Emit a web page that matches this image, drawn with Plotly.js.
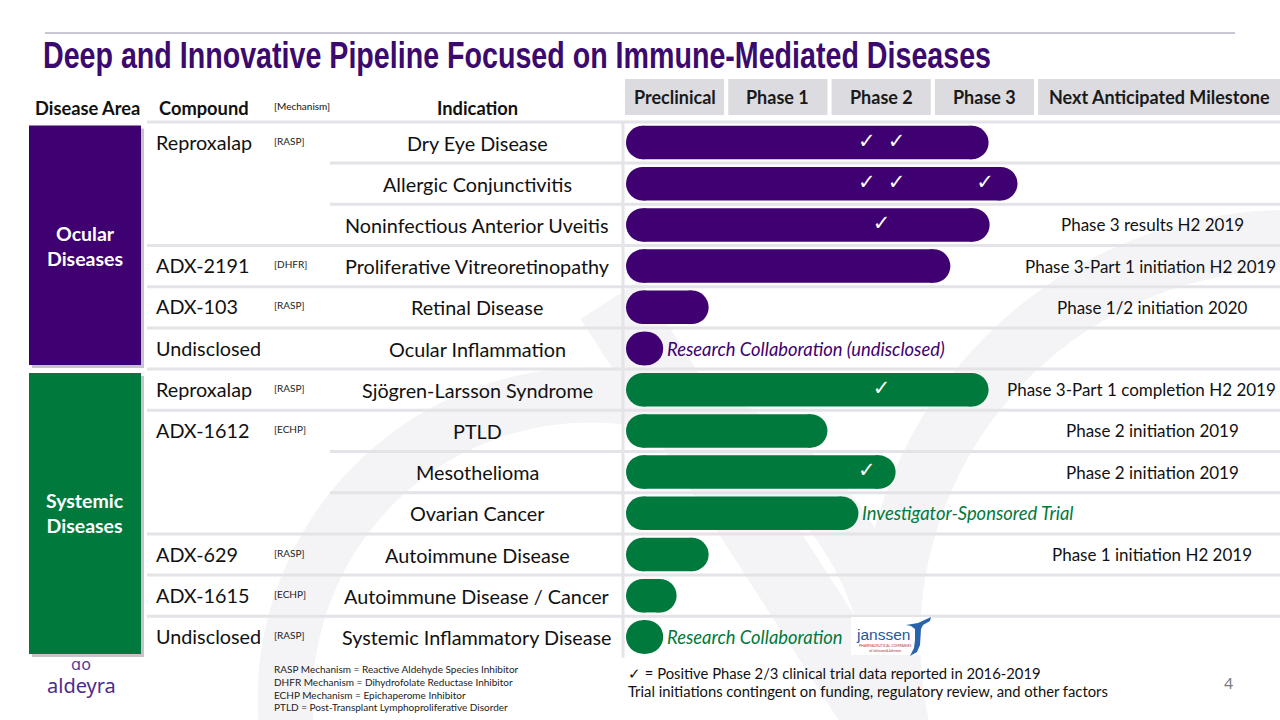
<!DOCTYPE html>
<html><head><meta charset="utf-8">
<script src="https://cdn.plot.ly/plotly-3.0.1.min.js"></script>
<style>html,body{margin:0;padding:0;background:#fff;}#chart{width:1280px;height:720px;}</style>
</head><body><div id="chart"></div>
<script>
// ---------------- data ----------------
const title = 'Deep and Innovative Pipeline Focused on Immune-Mediated Diseases';
const diseaseAreas = ['Ocular<br>Diseases', 'Systemic<br>Diseases'];
const compounds = ['Reproxalap','','','ADX-2191','ADX-103','Undisclosed','Reproxalap','ADX-1612','','','ADX-629','ADX-1615','Undisclosed'];
const mechanisms = ['[RASP]','','','[DHFR]','[RASP]','','[RASP]','[ECHP]','','','[RASP]','[ECHP]','[RASP]'];
const indications = ['Dry Eye Disease','Allergic Conjunctivitis','Noninfectious Anterior Uveitis','Proliferative Vitreoretinopathy','Retinal Disease','Ocular Inflammation','Sjögren-Larsson Syndrome','PTLD','Mesothelioma','Ovarian Cancer','Autoimmune Disease','Autoimmune Disease / Cancer','Systemic Inflammatory Disease'];
const areaIndex = [0,0,0,0,0,0,1,1,1,1,1,1,1];
// progress measured in phase columns: 0 = start of Preclinical, 1 = Phase 1, 2 = Phase 2, 3 = Phase 3
const progress = [3.51,3.79,3.52,3.14,0.80,0.36,3.51,1.95,2.61,2.25,0.80,0.49,0.36];
const milestones = ['','','Phase 3 results H2 2019','Phase 3-Part 1 initiation H2 2019','Phase 1/2 initiation 2020','','Phase 3-Part 1 completion H2 2019','Phase 2 initiation 2019','Phase 2 initiation 2019','','Phase 1 initiation H2 2019','',''];
const barNotes = ['','','','','','Research Collaboration (undisclosed)','','','','Investigator-Sponsored Trial','','','Research Collaboration'];
const checkRow = [0,0,1,1,1,2,6,8];
const checkPos = [2.33,2.62,2.33,2.62,3.475,2.475,2.475,2.33];
const phases = ['Preclinical','Phase 1','Phase 2','Phase 3'];
const milestoneHeader = 'Next Anticipated Milestone';
const leftHeaders = ['Disease Area','Compound','[Mechanism]','Indication'];
const footLeft = ['RASP Mechanism = Reactive Aldehyde Species Inhibitor','DHFR Mechanism = Dihydrofolate Reductase Inhibitor','ECHP Mechanism = Epichaperome Inhibitor','PTLD = Post-Transplant Lymphoproliferative Disorder'];
const footRight = ['✓ = Positive Phase 2/3 clinical trial data reported in 2016-2019','Trial initiations contingent on funding, regulatory review, and other factors'];
const pageNo = '4';

// ---------------- styling / layout helpers ----------------
const W = 1280, H = 720;
const X0 = 626, UNIT = 103.3;      // pixel of progress 0 and pixels per phase
const ROW0 = 142.5, PITCH = 41.2;  // first row centre, row pitch (px)
const BAR = 33.5;                  // bar thickness (px)
const r = (BAR / 2) / UNIT;        // cap radius in progress units
const colors = ['#3f0071', '#007a3c'];
const FONT = 'Lato, "Open Sans", sans-serif';
const TITLE_W = 952;
const px = p => p / W;
const py = p => 1 - p / H;
const rows = indications.map((_, i) => i);
const ux = p => (p - X0) / UNIT;   // px -> progress units
const barColors = areaIndex.map(a => colors[a]);

const traces = [
  { // bar body between the two round caps
    type: 'bar', orientation: 'h', y: rows,
    x: progress.map(v => Math.max(v - 2 * r, 0)), base: rows.map(() => r),
    width: BAR / PITCH,
    marker: { color: barColors, line: { width: 0 } },
    hoverinfo: 'skip'
  },
  { // left caps
    type: 'scatter', mode: 'markers', y: rows, x: rows.map(() => r),
    marker: { size: BAR, color: barColors, line: { width: 0 } },
    hoverinfo: 'skip'
  },
  { // right caps
    type: 'scatter', mode: 'markers', y: rows, x: progress.map(v => Math.max(v - r, r)),
    marker: { size: BAR, color: barColors, line: { width: 0 } },
    hoverinfo: 'skip'
  },
  {
    type: 'scatter', mode: 'text', x: checkPos, y: checkRow,
    text: checkRow.map(() => '✓'),
    textfont: { color: '#ffffff', size: 21, family: 'DejaVu Sans' },
    hoverinfo: 'skip'
  }
];

const shapes = [];
const annotations = [];
const grey = '#e3e3e8';
function note(o) {
  annotations.push(Object.assign({ showarrow: false, xanchor: 'center', yanchor: 'middle' }, o));
}

// watermark (faint logo shapes)
shapes.push({ type: 'circle', xref: 'paper', yref: 'paper', layer: 'below',
  x0: px(285), x1: px(895), y0: py(395), y1: py(1005), line: { color: '#f4f4f7', width: 55 } });
shapes.push({ type: 'line', xref: 'paper', yref: 'paper', layer: 'below',
  x0: px(610), y0: py(300), x1: px(880), y1: py(720), line: { color: '#f4f4f7', width: 70 } });
shapes.push({ type: 'circle', xref: 'paper', yref: 'paper', layer: 'below',
  x0: px(890), x1: px(1690), y0: py(240), y1: py(1040), line: { color: '#f4f4f7', width: 60 } });

// top rule
shapes.push({ type: 'line', xref: 'paper', yref: 'paper', x0: px(45), x1: px(1235), y0: py(33), y1: py(33),
  line: { color: '#c9c6d6', width: 2 } });

// title (box width fixed to the slide headline width; glyphs condensed after drawing)
note({ xref: 'paper', yref: 'paper', x: px(39), y: py(56), xanchor: 'left', width: TITLE_W, text: title,
  font: { family: '"Liberation Sans", Arial, sans-serif', size: 36.5, weight: 'bold', color: '#3b0a6e' } });

// phase header cells
phases.forEach((p, k) => {
  shapes.push({ type: 'rect', xref: 'x', yref: 'paper', x0: k - 0.01, x1: k + 0.95, y0: py(115), y1: py(79),
    fillcolor: '#dcdce0', line: { width: 0 }, layer: 'below' });
  note({ xref: 'x', yref: 'paper', x: k + 0.47, y: py(97), text: p,
    font: { family: FONT, size: 18, weight: 'bold', color: '#1a1a1a' } });
});
shapes.push({ type: 'rect', xref: 'x', yref: 'paper', x0: 3.99, x1: ux(1280), y0: py(115), y1: py(79),
  fillcolor: '#dcdce0', line: { width: 0 }, layer: 'below' });
note({ xref: 'paper', yref: 'paper', x: px(1159), y: py(97), text: milestoneHeader,
  font: { family: FONT, size: 18, weight: 'bold', color: '#1a1a1a' } });

// left headers
const lhX = [33, 157, 272, 477];
const lhAnchor = ['left', 'left', 'left', 'center'];
leftHeaders.forEach((t, k) => {
  const small = k === 2;
  note({ xref: 'paper', yref: 'paper', x: px(lhX[k]), y: py(small ? 106 : 108), xanchor: lhAnchor[k], text: t,
    font: { family: FONT, size: small ? 10 : 18.3, weight: small ? 'normal' : 'bold', color: '#111' } });
});

// disease area boxes
const areaSpans = [[0, 5], [6, 12]];
const areaPx = [[125.5, 365], [373, 654]];
areaPx.forEach((s, k) => {
  shapes.push({ type: 'rect', xref: 'paper', yref: 'paper', x0: px(32), x1: px(144), y0: py(s[1] + 3), y1: py(s[0] + 3),
    fillcolor: '#c4c4ca', line: { width: 0 } });
  shapes.push({ type: 'rect', xref: 'paper', yref: 'paper', x0: px(29), x1: px(141), y0: py(s[1]), y1: py(s[0]),
    fillcolor: colors[k], line: { width: 0 } });
  const mid = (areaSpans[k][0] + areaSpans[k][1]) / 2;
  note({ xref: 'paper', yref: 'y', x: px(85), y: mid, text: diseaseAreas[k],
    font: { family: FONT, size: 19.5, weight: 'bold', color: '#ffffff' } });
});

// row separators
shapes.push({ type: 'line', xref: 'paper', yref: 'y', x0: px(147), x1: 1, y0: -0.5, y1: -0.5, line: { color: grey, width: 3 } });
for (let i = 0; i < rows.length - 1; i++) {
  const partial = compounds[i + 1] === '';
  shapes.push({ type: 'line', xref: 'paper', yref: 'y', x0: px(partial ? 330 : 147), x1: 1, y0: i + 0.5, y1: i + 0.5,
    line: { color: grey, width: 3 }, layer: 'below' });
}
shapes.push({ type: 'line', xref: 'paper', yref: 'y', x0: px(623), x1: px(623), y0: -0.5, y1: rows.length - 0.5,
  line: { color: grey, width: 3 }, layer: 'below' });

// row texts
rows.forEach(i => {
  if (compounds[i]) note({ xref: 'paper', yref: 'y', x: px(154), y: i, xanchor: 'left', yshift: 1,
    text: compounds[i], font: { family: FONT, size: 19.8, color: '#111' } });
  if (mechanisms[i]) note({ xref: 'paper', yref: 'y', x: px(272), y: i, xanchor: 'left', yshift: 2,
    text: mechanisms[i], font: { family: FONT, size: 10, color: '#222' } });
  note({ xref: 'paper', yref: 'y', x: px(477), y: i,
    text: indications[i], font: { family: FONT, size: 19.8, color: '#111' } });
  if (milestones[i]) {
    const long = milestones[i].length >= 33;
    note({ xref: 'paper', yref: 'y', x: px(long ? 1278 : 1152), y: i, xanchor: long ? 'right' : 'center',
      text: milestones[i], font: { family: FONT, size: 17, color: '#111' } });
  }
  if (barNotes[i]) note({ xref: 'x', yref: 'y', x: progress[i] + 0.02, y: i, xanchor: 'left',
    text: barNotes[i], font: { family: FONT, size: 18.4, style: 'italic', color: colors[areaIndex[i]] } });
});

// janssen logo (drawn)
shapes.push({ type: 'rect', xref: 'paper', yref: 'paper', x0: px(851), x1: px(932), y0: py(655), y1: py(617),
  fillcolor: '#ffffff', line: { width: 0 } });
note({ xref: 'paper', yref: 'paper', x: px(854), y: py(634), xanchor: 'left', text: 'janssen',
  font: { family: '"Liberation Sans", sans-serif', size: 15.5, color: '#24589c' } });
note({ xref: 'paper', yref: 'paper', x: px(857), y: py(648), xanchor: 'left',
  text: 'PHARMACEUTICAL COMPANIES<br>of Johnson&Johnson',
  font: { family: FONT, size: 3.5, color: '#b03040' } });
const hook = [[906,625],[918,623],[931,617],[930,621],[923,625],[921,629],[920,645],[917,652],[910,656],[914,648],[915,640],[915,629],[911,626]];
shapes.push({ type: 'path', xref: 'paper', yref: 'paper', fillcolor: '#2a63ad', line: { width: 0 },
  path: 'M ' + hook.map(p => px(p[0]) + ',' + py(p[1])).join(' L ') + ' Z' });

// aldeyra logo
note({ xref: 'paper', yref: 'paper', x: px(81), y: py(664), text: 'ɑo',
  font: { family: '"DejaVu Sans", sans-serif', size: 16, color: '#5b3d98' } });
note({ xref: 'paper', yref: 'paper', x: px(81), y: py(685), text: 'aldeyra',
  font: { family: '"Noto Sans", sans-serif', size: 20, color: '#4b2c8c' } });

// footnotes
const footLeftY = [669, 682, 694.5, 707];
footLeft.forEach((t, k) => note({ xref: 'paper', yref: 'paper', x: px(272), y: py(footLeftY[k]), xanchor: 'left',
  text: t, font: { family: FONT, size: 10, color: '#222' } }));
const footRightY = [672.5, 691];
footRight.forEach((t, k) => note({ xref: 'paper', yref: 'paper', x: px(626), y: py(footRightY[k]), xanchor: 'left',
  text: t, font: { family: FONT, size: 14.8, color: '#111' } }));
note({ xref: 'paper', yref: 'paper', x: px(1228), y: py(682), text: pageNo,
  font: { family: FONT, size: 16, color: '#7a7a7a' } });

const layout = {
  width: W, height: H,
  margin: { l: 0, r: 0, t: 0, b: 0, pad: 0 },
  paper_bgcolor: '#ffffff', plot_bgcolor: 'rgba(0,0,0,0)',
  showlegend: false,
  xaxis: { range: [ux(0), ux(W)], visible: false, fixedrange: true },
  yaxis: { range: [(H - ROW0) / PITCH, -ROW0 / PITCH], visible: false, fixedrange: true },
  shapes: shapes, annotations: annotations,
  hovermode: false
};

Plotly.newPlot('chart', traces, layout, { displayModeBar: false, staticPlot: true }).then(() => {
  // condense the title glyphs to fit the narrow headline box of the slide
  document.querySelectorAll('.annotation-text').forEach(el => {
    if (el.textContent === title) {
      el.setAttribute('textLength', String(TITLE_W - 4));
      el.setAttribute('lengthAdjust', 'spacingAndGlyphs');
    }
  });
});
</script>
</body></html>
